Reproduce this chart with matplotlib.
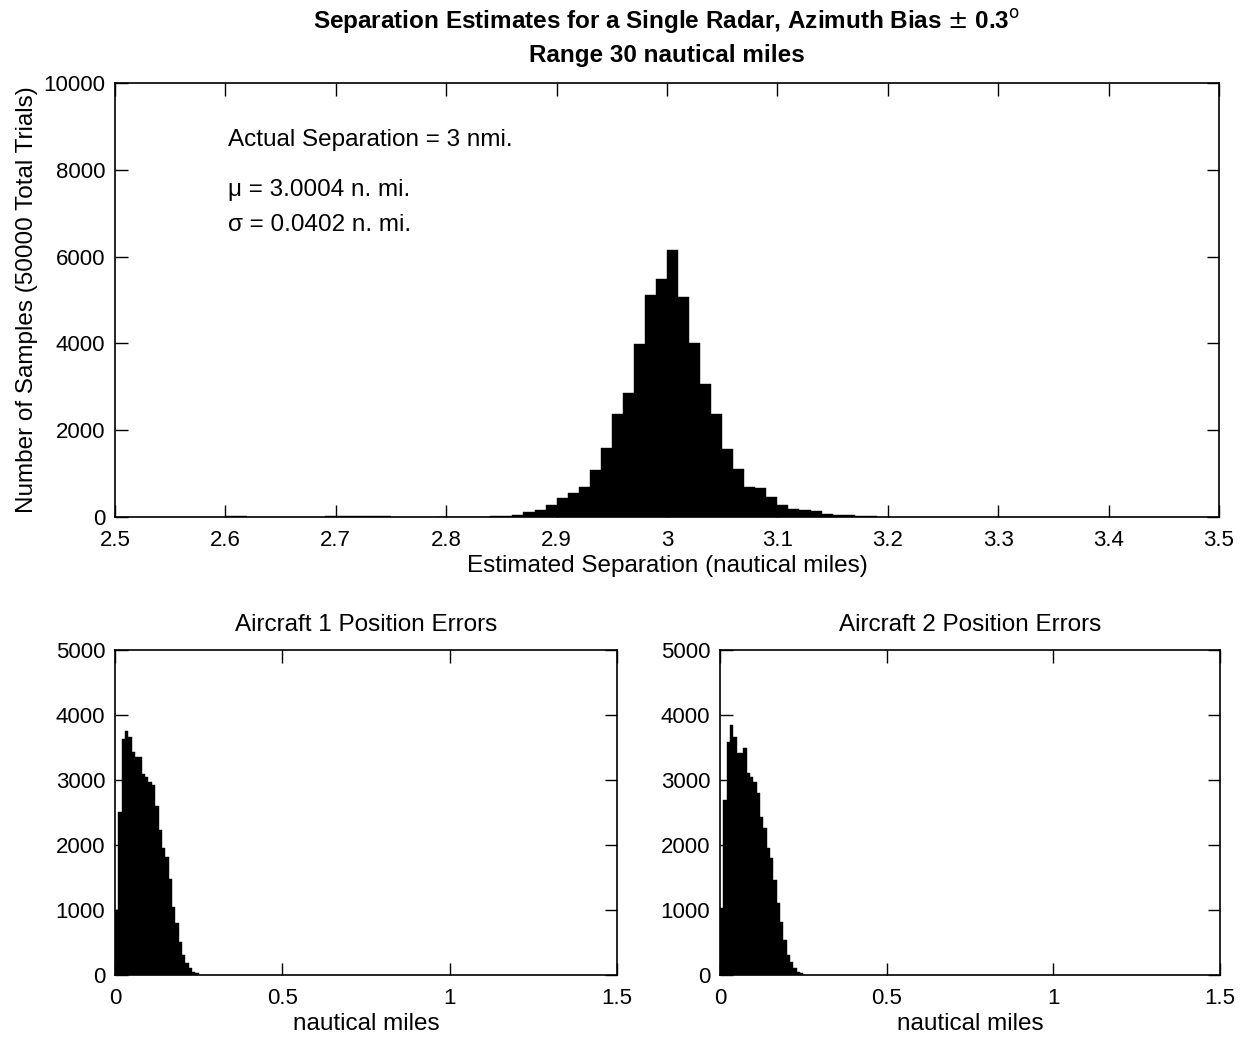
import numpy as np
import matplotlib
matplotlib.use("Agg")
import matplotlib.pyplot as plt

plt.rcParams['font.family'] = ['Liberation Sans', 'DejaVu Sans']

# ---- data ----
# Top histogram: separation estimates, bin width 0.01 n.mi. (left edges)
sep_bin_left = [2.60, 2.61, 2.69, 2.70, 2.71, 2.72, 2.73, 2.74, 2.79, 2.80, 2.81, 2.82, 2.83, 2.84, 2.85, 2.86,
                2.87, 2.88, 2.89, 2.90, 2.91, 2.92, 2.93, 2.94, 2.95, 2.96,
                2.97, 2.98, 2.99, 3.00, 3.01, 3.02, 3.03, 3.04, 3.05, 3.06,
                3.07, 3.08, 3.09, 3.10, 3.11, 3.12, 3.13, 3.14, 3.15, 3.16, 3.17, 3.18]
sep_counts = [15, 15, 15, 15, 15, 15, 15, 15, 10, 10, 10, 10, 10, 15, 20, 40,
              120, 155, 270, 445, 560, 700, 1075, 1600, 2365, 2865,
              3980, 5110, 5490, 6150, 5075, 4015, 3070, 2365, 1560, 1100,
              700, 660, 460, 270, 190, 155, 140, 60, 50, 40, 30, 20]
sep_bin_width = 0.01

# Bottom histograms: position errors, bin width 0.01 n.mi. starting at 0
err_bin_width = 0.01
ac1_counts = [1000, 2513, 3626, 3759, 3667, 3436, 3359, 3359, 3087, 3051,
              2974, 2923, 2605, 2231, 1949, 1820, 1472, 1051, 795, 513,
              308, 179, 103, 51, 30]
ac2_counts = [1026, 2692, 3590, 3846, 3667, 3410, 3410, 3497, 3103, 3051,
              2974, 2795, 2436, 2256, 1949, 1795, 1462, 1103, 821, 538,
              308, 205, 103, 51, 26]

top_xticks = [2.5, 2.6, 2.7, 2.8, 2.9, 3.0, 3.1, 3.2, 3.3, 3.4, 3.5]
top_yticks = [0, 2000, 4000, 6000, 8000, 10000]
bot_xticks = [0, 0.5, 1, 1.5]
bot_xticklabels = ['0', '0.5', '1', '1.5']
bot_yticks = [0, 1000, 2000, 3000, 4000, 5000]

W, H = 1254, 1040
fig = plt.figure(figsize=(W / 100, H / 100), dpi=100)

TXT = 17.5
TICK = 16


def px_axes(l, r, t, b):
    return fig.add_axes([l / W, 1 - b / H, (r - l) / W, (b - t) / H])


def style(ax):
    ax.tick_params(direction='in', length=9, width=1, labelsize=TICK,
                   top=True, right=True)
    ax.tick_params(axis='x', pad=9)
    ax.tick_params(axis='y', pad=7)
    for s in ax.spines.values():
        s.set_linewidth(1.2)


# ---- top ----
ax = px_axes(115, 1219, 83, 517)
for left, c in zip(sep_bin_left, sep_counts):
    ax.bar(left, c, width=sep_bin_width, align='edge', color='black', edgecolor='black', linewidth=0.3)
ax.set_xlim(2.5, 3.5)
ax.set_ylim(0, 10000)
ax.set_xticks(top_xticks)
ax.set_xticklabels([f"{v:g}" for v in top_xticks])
ax.set_yticks(top_yticks)
style(ax)
ax.set_xlabel('Estimated Separation (nautical miles)', fontsize=TXT, labelpad=3)
ax.set_ylabel('Number of Samples (50000 Total Trials)', fontsize=TXT, labelpad=4)
ax.set_title('Separation Estimates for a Single Radar, Azimuth Bias $\\pm$ 0.3$^{\\mathrm{o}}$\nRange 30 nautical miles',
             fontsize=TXT, fontweight='bold', pad=15, linespacing=1.45)
ax.text(2.602, 8687, 'Actual Separation = 3 nmi.', fontsize=TXT, va='center', ha='left')
ax.text(2.602, 7530, '\u03bc = 3.0004 n. mi.', fontsize=TXT, va='center', ha='left')
ax.text(2.602, 6720, '\u03c3 = 0.0402 n. mi.', fontsize=TXT, va='center', ha='left')

# ---- bottom ----
for (l, r), counts, title in [((115, 617), ac1_counts, 'Aircraft 1 Position Errors'),
                              ((720, 1220), ac2_counts, 'Aircraft 2 Position Errors')]:
    bx = px_axes(l, r, 650, 975)
    lefts = [i * err_bin_width for i in range(len(counts))]
    bx.bar(lefts, counts, width=err_bin_width, align='edge', color='black', edgecolor='black', linewidth=0.3)
    bx.set_xlim(0, 1.5)
    bx.set_ylim(0, 5000)
    bx.set_xticks(bot_xticks)
    bx.set_xticklabels(bot_xticklabels)
    bx.set_yticks(bot_yticks)
    style(bx)
    bx.set_xlabel('nautical miles', fontsize=TXT, labelpad=3)
    bx.set_title(title, fontsize=TXT, pad=14)

fig.savefig('out.png', dpi=100, facecolor='white')
